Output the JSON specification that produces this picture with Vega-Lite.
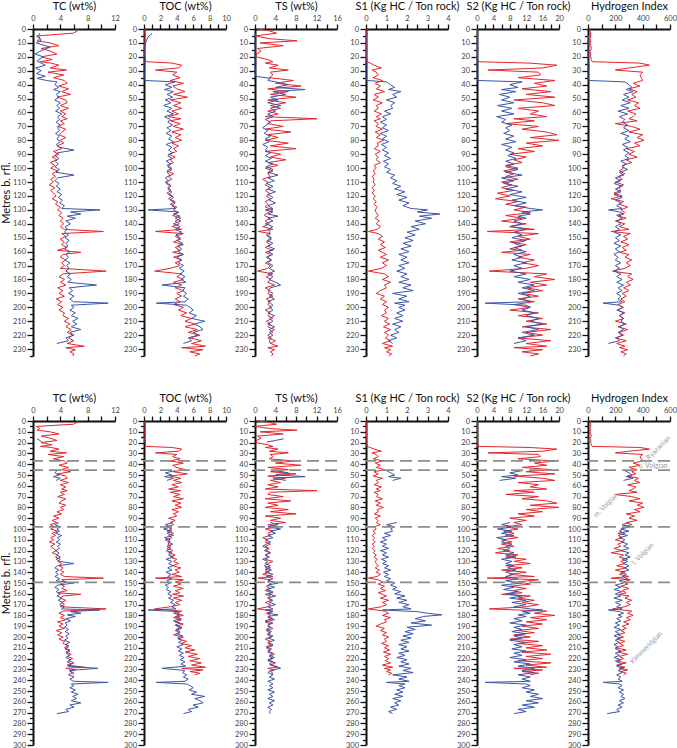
{
"$schema": "https://vega.github.io/schema/vega-lite/v6.json",
"padding": {"left": 0, "top": 0, "right": 0, "bottom": 0},
"config": {
  "view": {"stroke": null},
  "font": "Lato",
  "axis": {"domainColor": "#111", "domainWidth": 2, "tickColor": "#111", "tickWidth": 1.3, "tickSize": 5, "labelColor": "#444", "labelFontSize": 7.5, "labelPadding": 1.5, "labelFlush": false, "labelOverlap": false, "titleFontSize": 11, "titleFontWeight": "normal", "titleColor": "#111", "titlePadding": 3, "grid": false, "labelFont": "Lato", "titleFont": "Lato"}
},
"datasets": {
  "red": [
{"d":0,"tc":6.5,"toc":0.1,"ts":0.5,"s1":0.02,"s2":0,"hi":15},
{"d":1,"tc":6.6,"toc":0.1,"ts":2.5,"s1":0.03,"s2":0.1,"hi":15},
{"d":3,"tc":5.9,"toc":0.1,"ts":4.2,"s1":0.03,"s2":0.1,"hi":20},
{"d":5,"tc":0.5,"toc":0.15,"ts":0,"s1":0.02,"s2":0.1,"hi":20},
{"d":7,"tc":1.0,"toc":0.1,"ts":3.0,"s1":0.03,"s2":0.1,"hi":15},
{"d":8.5,"tc":0.6,"toc":0.12,"ts":8.2,"s1":0.03,"s2":0.1,"hi":20},
{"d":10,"tc":2.5,"toc":0.1,"ts":1.0,"s1":0.02,"s2":0.1,"hi":15},
{"d":12,"tc":3.8,"toc":0.1,"ts":5.5,"s1":0.03,"s2":0.1,"hi":20},
{"d":14,"tc":1.2,"toc":0.15,"ts":0.5,"s1":0.03,"s2":0.2,"hi":25},
{"d":16,"tc":2.6,"toc":0.1,"ts":1.2,"s1":0.03,"s2":0.1,"hi":15},
{"d":18,"tc":3.5,"toc":0.12,"ts":0.3,"s1":0.03,"s2":0.1,"hi":20},
{"d":20,"tc":1.2,"toc":0.15,"ts":0.2,"s1":0.03,"s2":0.1,"hi":20},
{"d":22,"tc":2.8,"toc":0.2,"ts":2.5,"s1":0.04,"s2":0.2,"hi":25},
{"d":23.5,"tc":1.1,"toc":0.2,"ts":3.5,"s1":0.05,"s2":0.2,"hi":30},
{"d":24.5,"tc":2.6,"toc":3.4,"ts":2.0,"s1":0.2,"s2":12.7,"hi":380},
{"d":26,"tc":3.8,"toc":4.6,"ts":4.5,"s1":0.4,"s2":19.5,"hi":450},
{"d":28,"tc":2.5,"toc":4.2,"ts":2.8,"s1":0.75,"s2":16,"hi":300},
{"d":29.5,"tc":4.9,"toc":1.4,"ts":6.5,"s1":0.3,"s2":2.7,"hi":200},
{"d":31,"tc":2.2,"toc":4.0,"ts":3.0,"s1":0.5,"s2":15,"hi":400},
{"d":33,"tc":4.5,"toc":3.5,"ts":3.5,"s1":0.6,"s2":15.5,"hi":380},
{"d":35,"tc":3.0,"toc":4.4,"ts":2.8,"s1":0.35,"s2":10,"hi":390},
{"d":37,"tc":4.6,"toc":3.2,"ts":7.5,"s1":0.8,"s2":19,"hi":400},
{"d":39,"tc":5.0,"toc":4.8,"ts":4.0,"s1":0.45,"s2":14,"hi":330},
{"d":41,"tc":3.8,"toc":3.5,"ts":9.0,"s1":0.7,"s2":17,"hi":380},
{"d":43,"tc":5.2,"toc":4.0,"ts":2.5,"s1":0.5,"s2":11,"hi":300},
{"d":45,"tc":4.2,"toc":5.0,"ts":6.5,"s1":0.9,"s2":18,"hi":360},
{"d":47,"tc":5.5,"toc":3.6,"ts":3.0,"s1":0.4,"s2":12,"hi":320},
{"d":49,"tc":3.5,"toc":5.3,"ts":8.0,"s1":0.6,"s2":19,"hi":350},
{"d":51,"tc":4.8,"toc":3.2,"ts":2.5,"s1":0.35,"s2":9,"hi":290},
{"d":53,"tc":5.0,"toc":4.5,"ts":6.0,"s1":0.8,"s2":16,"hi":370},
{"d":55,"tc":4.0,"toc":3.6,"ts":3.0,"s1":0.5,"s2":19,"hi":340},
{"d":57,"tc":5.2,"toc":4.6,"ts":5.0,"s1":0.6,"s2":10,"hi":380},
{"d":59,"tc":4.0,"toc":3.4,"ts":2.5,"s1":0.4,"s2":15,"hi":290},
{"d":61,"tc":4.8,"toc":4.2,"ts":4.5,"s1":0.75,"s2":13,"hi":350},
{"d":63,"tc":4.2,"toc":3.0,"ts":2.0,"s1":0.5,"s2":17,"hi":330},
{"d":64.5,"tc":5.0,"toc":4.5,"ts":12.1,"s1":0.7,"s2":9,"hi":300},
{"d":66,"tc":4.0,"toc":3.2,"ts":3.0,"s1":0.4,"s2":14,"hi":360},
{"d":68,"tc":4.6,"toc":4.4,"ts":2.5,"s1":0.6,"s2":7,"hi":200},
{"d":70,"tc":3.6,"toc":3.6,"ts":5.5,"s1":0.5,"s2":15,"hi":320},
{"d":72,"tc":4.8,"toc":4.8,"ts":2.0,"s1":0.8,"s2":11,"hi":380},
{"d":74,"tc":4.2,"toc":3.4,"ts":7.0,"s1":0.45,"s2":17,"hi":300},
{"d":76,"tc":3.8,"toc":4.5,"ts":2.5,"s1":0.7,"s2":19.5,"hi":400},
{"d":78,"tc":4.8,"toc":3.8,"ts":4.5,"s1":0.5,"s2":13,"hi":360},
{"d":80,"tc":4.0,"toc":4.6,"ts":2.0,"s1":0.85,"s2":20,"hi":410},
{"d":82,"tc":4.5,"toc":3.4,"ts":6.5,"s1":0.55,"s2":12,"hi":340},
{"d":84,"tc":3.5,"toc":4.2,"ts":3.0,"s1":0.6,"s2":16,"hi":380},
{"d":86,"tc":4.2,"toc":3.6,"ts":8.0,"s1":0.4,"s2":10,"hi":280},
{"d":88,"tc":3.0,"toc":4.0,"ts":2.0,"s1":0.7,"s2":14,"hi":340},
{"d":90,"tc":3.8,"toc":3.0,"ts":5.0,"s1":0.45,"s2":8,"hi":300},
{"d":92,"tc":2.8,"toc":3.8,"ts":3.0,"s1":0.6,"s2":12,"hi":360},
{"d":94,"tc":3.5,"toc":3.2,"ts":6.0,"s1":0.5,"s2":9,"hi":280},
{"d":96,"tc":2.5,"toc":3.6,"ts":2.5,"s1":0.7,"s2":11,"hi":320},
{"d":98,"tc":3.2,"toc":2.8,"ts":4.5,"s1":0.4,"s2":7,"hi":250},
{"d":100,"tc":2.6,"toc":3.4,"ts":2.0,"s1":0.5,"s2":10,"hi":260},
{"d":102,"tc":3.6,"toc":2.8,"ts":3.5,"s1":0.35,"s2":6.5,"hi":230},
{"d":104,"tc":2.8,"toc":3.6,"ts":2.5,"s1":0.45,"s2":9,"hi":270},
{"d":106,"tc":3.3,"toc":3.0,"ts":3.0,"s1":0.3,"s2":7,"hi":220},
{"d":108,"tc":2.6,"toc":3.4,"ts":1.5,"s1":0.4,"s2":10,"hi":250},
{"d":110,"tc":3.0,"toc":2.6,"ts":2.5,"s1":0.35,"s2":6,"hi":200},
{"d":112,"tc":2.4,"toc":3.2,"ts":2.0,"s1":0.45,"s2":8.5,"hi":260},
{"d":114,"tc":3.2,"toc":2.9,"ts":3.0,"s1":0.3,"s2":6,"hi":220},
{"d":116,"tc":2.6,"toc":3.3,"ts":2.0,"s1":0.4,"s2":9,"hi":240},
{"d":118,"tc":3.0,"toc":2.8,"ts":2.8,"s1":0.3,"s2":5,"hi":190},
{"d":120,"tc":3.4,"toc":3.5,"ts":2.2,"s1":0.45,"s2":8,"hi":250},
{"d":122,"tc":2.8,"toc":3.0,"ts":3.0,"s1":0.35,"s2":4.5,"hi":170},
{"d":124,"tc":3.6,"toc":3.8,"ts":2.0,"s1":0.5,"s2":10,"hi":260},
{"d":126,"tc":3.3,"toc":3.2,"ts":2.5,"s1":0.4,"s2":7,"hi":230},
{"d":128,"tc":4.0,"toc":4.0,"ts":2.0,"s1":0.55,"s2":12,"hi":290},
{"d":130,"tc":3.6,"toc":3.6,"ts":3.5,"s1":0.45,"s2":9,"hi":240},
{"d":132,"tc":4.2,"toc":4.2,"ts":2.5,"s1":0.5,"s2":13,"hi":270},
{"d":134,"tc":3.8,"toc":3.5,"ts":1.8,"s1":0.6,"s2":7,"hi":210},
{"d":136,"tc":4.4,"toc":4.5,"ts":3.0,"s1":0.45,"s2":11,"hi":280},
{"d":138,"tc":4.0,"toc":3.8,"ts":2.0,"s1":0.65,"s2":6,"hi":200},
{"d":140,"tc":4.5,"toc":4.3,"ts":2.8,"s1":0.5,"s2":12,"hi":270},
{"d":142,"tc":4.0,"toc":3.4,"ts":1.5,"s1":0.7,"s2":8,"hi":230},
{"d":144,"tc":4.6,"toc":4.6,"ts":3.5,"s1":0.55,"s2":14,"hi":300},
{"d":145.5,"tc":10.3,"toc":1.4,"ts":0.6,"s1":0.12,"s2":2.5,"hi":170},
{"d":147,"tc":4.2,"toc":4.8,"ts":3.0,"s1":0.6,"s2":15,"hi":310},
{"d":149,"tc":4.8,"toc":3.8,"ts":2.5,"s1":0.8,"s2":10,"hi":260},
{"d":151,"tc":4.0,"toc":4.5,"ts":3.2,"s1":0.6,"s2":13,"hi":290},
{"d":153,"tc":4.6,"toc":3.6,"ts":2.2,"s1":0.9,"s2":8,"hi":240},
{"d":155,"tc":4.2,"toc":4.8,"ts":3.0,"s1":0.7,"s2":12,"hi":300},
{"d":157,"tc":5.0,"toc":3.8,"ts":2.0,"s1":0.95,"s2":9,"hi":250},
{"d":159,"tc":3.6,"toc":4.4,"ts":3.5,"s1":0.6,"s2":11,"hi":280},
{"d":160.5,"tc":7.0,"toc":3.5,"ts":2.0,"s1":0.8,"s2":6,"hi":230},
{"d":162,"tc":4.4,"toc":4.8,"ts":3.0,"s1":1.0,"s2":13,"hi":300},
{"d":164,"tc":4.0,"toc":3.6,"ts":2.5,"s1":0.7,"s2":10,"hi":270},
{"d":166,"tc":4.8,"toc":4.6,"ts":3.2,"s1":1.1,"s2":14,"hi":320},
{"d":168,"tc":4.2,"toc":3.8,"ts":2.0,"s1":0.8,"s2":11,"hi":280},
{"d":170,"tc":4.6,"toc":4.4,"ts":3.0,"s1":1.0,"s2":15,"hi":310},
{"d":172,"tc":4.0,"toc":3.2,"ts":2.5,"s1":0.75,"s2":12,"hi":270},
{"d":174,"tc":10.7,"toc":1.3,"ts":0.5,"s1":0.12,"s2":3,"hi":180},
{"d":176,"tc":4.4,"toc":4.6,"ts":3.5,"s1":0.9,"s2":17,"hi":320},
{"d":178,"tc":3.8,"toc":4.0,"ts":2.2,"s1":1.1,"s2":14,"hi":290},
{"d":180,"tc":4.6,"toc":4.8,"ts":3.0,"s1":0.8,"s2":19,"hi":330},
{"d":182,"tc":4.0,"toc":3.6,"ts":2.5,"s1":1.2,"s2":13,"hi":280},
{"d":184,"tc":4.8,"toc":4.6,"ts":3.8,"s1":0.9,"s2":17,"hi":310},
{"d":186,"tc":3.6,"toc":3.8,"ts":2.0,"s1":1.0,"s2":12,"hi":260},
{"d":188,"tc":4.4,"toc":4.8,"ts":3.0,"s1":0.7,"s2":16,"hi":300},
{"d":190,"tc":3.8,"toc":4.0,"ts":2.5,"s1":0.5,"s2":11,"hi":250},
{"d":192,"tc":4.6,"toc":4.6,"ts":3.5,"s1":0.9,"s2":15,"hi":280},
{"d":194,"tc":3.4,"toc":3.8,"ts":2.2,"s1":0.7,"s2":10,"hi":240},
{"d":196,"tc":4.2,"toc":4.4,"ts":3.0,"s1":1.0,"s2":14,"hi":270},
{"d":198,"tc":3.6,"toc":3.6,"ts":2.5,"s1":0.8,"s2":9,"hi":220},
{"d":200,"tc":4.4,"toc":4.8,"ts":3.2,"s1":1.1,"s2":13,"hi":260},
{"d":202,"tc":3.8,"toc":4.2,"ts":2.0,"s1":0.9,"s2":8,"hi":210},
{"d":204,"tc":4.6,"toc":5.2,"ts":3.0,"s1":1.0,"s2":15,"hi":270},
{"d":206,"tc":4.4,"toc":4.5,"ts":2.5,"s1":0.75,"s2":10,"hi":230},
{"d":208,"tc":5.2,"toc":5.8,"ts":3.5,"s1":1.1,"s2":16,"hi":260},
{"d":210,"tc":4.6,"toc":5.0,"ts":2.2,"s1":0.9,"s2":12,"hi":200},
{"d":212,"tc":5.4,"toc":6.2,"ts":3.0,"s1":1.15,"s2":17,"hi":280},
{"d":214,"tc":4.8,"toc":5.0,"ts":2.5,"s1":0.85,"s2":11,"hi":220},
{"d":216,"tc":5.6,"toc":6.5,"ts":3.8,"s1":1.2,"s2":18,"hi":290},
{"d":218,"tc":5.0,"toc":5.4,"ts":2.8,"s1":0.9,"s2":12,"hi":230},
{"d":220,"tc":5.8,"toc":6.8,"ts":3.5,"s1":1.1,"s2":16,"hi":260},
{"d":222,"tc":5.2,"toc":5.6,"ts":2.5,"s1":0.95,"s2":10,"hi":200},
{"d":224,"tc":6.0,"toc":7.0,"ts":4.0,"s1":1.2,"s2":18,"hi":280},
{"d":226,"tc":5.0,"toc":5.8,"ts":3.0,"s1":0.8,"s2":12,"hi":210},
{"d":228,"tc":7.5,"toc":7.5,"ts":4.5,"s1":1.3,"s2":17,"hi":270},
{"d":229,"tc":4.8,"toc":4.6,"ts":2.5,"s1":0.9,"s2":9,"hi":230},
{"d":230.5,"tc":6.2,"toc":7.2,"ts":3.8,"s1":1.2,"s2":16,"hi":290},
{"d":232,"tc":5.4,"toc":5.6,"ts":3.0,"s1":1.0,"s2":11,"hi":240},
{"d":233.5,"tc":6.0,"toc":6.8,"ts":3.5,"s1":1.25,"s2":15,"hi":280},
{"d":235,"tc":5.8,"toc":6.2,"ts":3.2,"s1":1.1,"s2":13,"hi":260}
  ],
  "blueT": [
{"d":3,"tc":1.0,"toc":1.0,"ts":0,"s1":0.08,"s2":0.2,"hi":20},
{"d":5,"tc":0.8,"toc":0.6,"ts":0,"s1":0.02,"s2":0,"hi":5},
{"d":8,"tc":1.2,"toc":0.3,"ts":0,"s1":0,"s2":0,"hi":0},
{"d":10,"tc":0.5,"toc":0.2,"ts":0,"s1":0,"s2":0,"hi":0},
{"d":13,"tc":2.5,"toc":0.05,"ts":0,"s1":0,"s2":0,"hi":0},
{"d":16,"tc":1.0,"toc":0,"ts":0,"s1":0,"s2":0,"hi":0},
{"d":18,"tc":0.3,"toc":0,"ts":0,"s1":0,"s2":0,"hi":0},
{"d":20,"tc":1.5,"toc":0,"ts":0,"s1":0,"s2":0,"hi":0},
{"d":23,"tc":0.6,"toc":0,"ts":0,"s1":0,"s2":0,"hi":0},
{"d":26,"tc":1.8,"toc":0,"ts":0,"s1":0,"s2":0,"hi":0},
{"d":28,"tc":0.4,"toc":0,"ts":0,"s1":0,"s2":0,"hi":0},
{"d":30,"tc":1.2,"toc":0,"ts":0,"s1":0,"s2":0,"hi":0},
{"d":32,"tc":0.5,"toc":0,"ts":0,"s1":0,"s2":0,"hi":0},
{"d":34,"tc":1.8,"toc":0,"ts":0.2,"s1":0,"s2":0,"hi":0},
{"d":35.5,"tc":0.6,"toc":0,"ts":3.0,"s1":0,"s2":0,"hi":0},
{"d":37,"tc":2.0,"toc":0.1,"ts":2.5,"s1":0.05,"s2":0.2,"hi":10},
{"d":38,"tc":3.5,"toc":3.8,"ts":4.0,"s1":1.0,"s2":11,"hi":270},
{"d":40,"tc":3.2,"toc":2.6,"ts":6.5,"s1":1.2,"s2":8,"hi":300},
{"d":42,"tc":3.8,"toc":3.4,"ts":4.0,"s1":1.4,"s2":10,"hi":320},
{"d":43.5,"tc":3.0,"toc":2.5,"ts":9.8,"s1":1.1,"s2":6,"hi":280},
{"d":45,"tc":4.0,"toc":3.6,"ts":3.5,"s1":1.7,"s2":9.5,"hi":330},
{"d":47,"tc":3.4,"toc":2.8,"ts":6.0,"s1":1.3,"s2":5.5,"hi":260},
{"d":49,"tc":3.8,"toc":3.5,"ts":3.0,"s1":1.5,"s2":8,"hi":300},
{"d":51,"tc":3.2,"toc":2.6,"ts":4.5,"s1":1.0,"s2":6,"hi":250},
{"d":53,"tc":4.0,"toc":3.3,"ts":2.5,"s1":1.4,"s2":9,"hi":310},
{"d":55,"tc":3.5,"toc":2.4,"ts":5.0,"s1":1.2,"s2":5,"hi":240},
{"d":57,"tc":3.9,"toc":3.4,"ts":3.0,"s1":1.3,"s2":8.5,"hi":300},
{"d":59,"tc":3.3,"toc":2.8,"ts":4.0,"s1":0.9,"s2":6,"hi":220},
{"d":61,"tc":4.2,"toc":3.6,"ts":2.5,"s1":1.2,"s2":9,"hi":290},
{"d":63,"tc":3.6,"toc":2.5,"ts":3.5,"s1":0.8,"s2":4.8,"hi":230},
{"d":65,"tc":3.9,"toc":3.2,"ts":2.0,"s1":1.0,"s2":7,"hi":270},
{"d":67,"tc":3.4,"toc":2.9,"ts":3.0,"s1":0.7,"s2":6,"hi":250},
{"d":69,"tc":4.0,"toc":3.5,"ts":2.2,"s1":1.0,"s2":8.5,"hi":290},
{"d":71,"tc":3.6,"toc":2.8,"ts":1.5,"s1":0.8,"s2":7,"hi":260},
{"d":73,"tc":3.9,"toc":3.3,"ts":2.5,"s1":1.1,"s2":8,"hi":300},
{"d":75,"tc":3.3,"toc":2.7,"ts":1.8,"s1":0.7,"s2":6.5,"hi":240},
{"d":77,"tc":3.8,"toc":3.4,"ts":3.0,"s1":1.0,"s2":9,"hi":300},
{"d":79,"tc":3.5,"toc":3.0,"ts":2.0,"s1":0.8,"s2":7,"hi":270},
{"d":81,"tc":4.0,"toc":3.6,"ts":2.8,"s1":1.1,"s2":9.5,"hi":310},
{"d":83,"tc":3.4,"toc":2.7,"ts":1.5,"s1":0.75,"s2":6,"hi":250},
{"d":85,"tc":3.9,"toc":3.4,"ts":2.5,"s1":1.0,"s2":8.5,"hi":290},
{"d":87,"tc":6.0,"toc":3.0,"ts":2.0,"s1":0.8,"s2":7,"hi":260},
{"d":89,"tc":3.6,"toc":3.5,"ts":3.0,"s1":1.1,"s2":9,"hi":300},
{"d":91,"tc":3.2,"toc":2.9,"ts":2.0,"s1":0.9,"s2":7.5,"hi":270},
{"d":93,"tc":3.8,"toc":3.4,"ts":3.2,"s1":1.2,"s2":9.5,"hi":300},
{"d":95,"tc":3.3,"toc":2.7,"ts":2.0,"s1":0.85,"s2":7,"hi":240},
{"d":97,"tc":3.7,"toc":3.3,"ts":3.5,"s1":1.1,"s2":9,"hi":280},
{"d":99,"tc":3.2,"toc":2.9,"ts":2.2,"s1":0.9,"s2":7,"hi":250},
{"d":101,"tc":3.9,"toc":3.4,"ts":3.5,"s1":1.2,"s2":10,"hi":290},
{"d":103,"tc":3.4,"toc":2.8,"ts":2.5,"s1":1.0,"s2":7,"hi":230},
{"d":105,"tc":6.0,"toc":3.2,"ts":4.5,"s1":1.4,"s2":11,"hi":260},
{"d":107,"tc":3.6,"toc":2.6,"ts":2.5,"s1":1.2,"s2":6,"hi":200},
{"d":109,"tc":3.2,"toc":3.0,"ts":3.8,"s1":1.5,"s2":9,"hi":240},
{"d":111,"tc":3.8,"toc":2.7,"ts":2.2,"s1":1.3,"s2":6.5,"hi":190},
{"d":113,"tc":3.4,"toc":3.3,"ts":3.5,"s1":1.7,"s2":10,"hi":250},
{"d":115,"tc":4.0,"toc":2.9,"ts":2.5,"s1":1.4,"s2":7,"hi":200},
{"d":117,"tc":3.5,"toc":3.4,"ts":4.0,"s1":1.9,"s2":11,"hi":240},
{"d":119,"tc":4.2,"toc":3.0,"ts":2.5,"s1":1.5,"s2":8,"hi":190},
{"d":121,"tc":3.7,"toc":3.6,"ts":3.5,"s1":2.0,"s2":12,"hi":250},
{"d":123,"tc":4.3,"toc":3.2,"ts":2.8,"s1":1.6,"s2":8.5,"hi":200},
{"d":125,"tc":3.9,"toc":3.8,"ts":4.0,"s1":2.1,"s2":12,"hi":240},
{"d":127,"tc":4.6,"toc":3.4,"ts":2.5,"s1":1.8,"s2":9,"hi":210},
{"d":129,"tc":4.2,"toc":3.9,"ts":3.5,"s1":2.2,"s2":13,"hi":250},
{"d":130,"tc":9.8,"toc":0.5,"ts":2.0,"s1":3.0,"s2":16,"hi":150},
{"d":131.5,"tc":5.5,"toc":4.2,"ts":3.5,"s1":2.5,"s2":11,"hi":230},
{"d":133,"tc":7.0,"toc":3.6,"ts":2.5,"s1":3.6,"s2":13,"hi":260},
{"d":134.5,"tc":5.0,"toc":4.4,"ts":4.5,"s1":2.6,"s2":10,"hi":220},
{"d":136,"tc":6.2,"toc":3.8,"ts":2.5,"s1":3.2,"s2":12,"hi":250},
{"d":138,"tc":4.8,"toc":4.5,"ts":3.5,"s1":2.4,"s2":9,"hi":210},
{"d":140,"tc":5.5,"toc":3.6,"ts":2.0,"s1":2.9,"s2":11,"hi":240},
{"d":142,"tc":4.7,"toc":4.4,"ts":3.5,"s1":2.2,"s2":8,"hi":200},
{"d":144,"tc":5.0,"toc":3.8,"ts":2.5,"s1":2.6,"s2":12,"hi":230},
{"d":146,"tc":4.6,"toc":4.6,"ts":3.0,"s1":2.0,"s2":9,"hi":190},
{"d":148,"tc":5.2,"toc":3.9,"ts":2.2,"s1":2.4,"s2":11,"hi":240},
{"d":150,"tc":4.7,"toc":4.4,"ts":3.2,"s1":1.9,"s2":8.5,"hi":200},
{"d":152,"tc":5.3,"toc":4.0,"ts":2.4,"s1":2.3,"s2":12,"hi":230},
{"d":154,"tc":4.8,"toc":4.7,"ts":3.5,"s1":1.8,"s2":9,"hi":190},
{"d":156,"tc":5.1,"toc":4.1,"ts":2.5,"s1":2.2,"s2":11,"hi":240},
{"d":158,"tc":4.6,"toc":4.6,"ts":3.8,"s1":1.7,"s2":8,"hi":200},
{"d":160,"tc":5.4,"toc":4.2,"ts":2.5,"s1":2.1,"s2":12,"hi":230},
{"d":162,"tc":4.8,"toc":4.8,"ts":3.5,"s1":1.6,"s2":9,"hi":190},
{"d":164,"tc":5.2,"toc":4.0,"ts":2.2,"s1":2.0,"s2":11,"hi":220},
{"d":166,"tc":4.7,"toc":4.6,"ts":3.2,"s1":1.7,"s2":8.5,"hi":200},
{"d":168,"tc":5.4,"toc":4.2,"ts":2.5,"s1":2.1,"s2":12,"hi":240},
{"d":170,"tc":4.9,"toc":4.8,"ts":3.5,"s1":1.6,"s2":9,"hi":200},
{"d":172,"tc":5.3,"toc":4.3,"ts":2.8,"s1":1.9,"s2":11,"hi":230},
{"d":174,"tc":4.8,"toc":4.9,"ts":3.8,"s1":1.5,"s2":8,"hi":190},
{"d":176,"tc":5.5,"toc":4.4,"ts":2.5,"s1":2.0,"s2":12,"hi":240},
{"d":178,"tc":5.0,"toc":5.0,"ts":3.5,"s1":1.7,"s2":9,"hi":210},
{"d":180,"tc":5.6,"toc":4.5,"ts":2.8,"s1":2.1,"s2":13,"hi":250},
{"d":182,"tc":5.1,"toc":5.1,"ts":4.0,"s1":1.6,"s2":10,"hi":210},
{"d":184,"tc":9.3,"toc":2.2,"ts":5.0,"s1":2.2,"s2":14,"hi":260},
{"d":186,"tc":5.3,"toc":5.0,"ts":3.0,"s1":1.8,"s2":11,"hi":220},
{"d":188,"tc":5.8,"toc":4.7,"ts":2.5,"s1":2.3,"s2":14,"hi":250},
{"d":190,"tc":5.2,"toc":5.2,"ts":3.5,"s1":1.3,"s2":10,"hi":210},
{"d":192,"tc":6.0,"toc":4.8,"ts":2.8,"s1":2.0,"s2":13,"hi":240},
{"d":194,"tc":5.4,"toc":5.4,"ts":3.8,"s1":1.6,"s2":11,"hi":220},
{"d":196,"tc":5.9,"toc":5.0,"ts":2.5,"s1":2.1,"s2":13,"hi":250},
{"d":197,"tc":11.0,"toc":1.5,"ts":3.0,"s1":1.4,"s2":2,"hi":110},
{"d":198.5,"tc":5.6,"toc":5.2,"ts":3.5,"s1":1.9,"s2":12,"hi":230},
{"d":200,"tc":6.0,"toc":5.6,"ts":2.8,"s1":1.6,"s2":13,"hi":250},
{"d":202,"tc":5.4,"toc":6.0,"ts":3.5,"s1":1.9,"s2":11,"hi":220},
{"d":204,"tc":6.2,"toc":5.5,"ts":2.5,"s1":1.5,"s2":14,"hi":260},
{"d":206,"tc":5.6,"toc":6.4,"ts":3.8,"s1":1.8,"s2":12,"hi":230},
{"d":208,"tc":6.6,"toc":5.8,"ts":2.8,"s1":1.4,"s2":15,"hi":260},
{"d":210,"tc":5.8,"toc":7.4,"ts":3.5,"s1":1.8,"s2":13,"hi":240},
{"d":212,"tc":6.4,"toc":6.2,"ts":2.5,"s1":1.3,"s2":16,"hi":270},
{"d":214,"tc":5.6,"toc":6.8,"ts":3.8,"s1":1.7,"s2":12,"hi":230},
{"d":216,"tc":7.0,"toc":7.2,"ts":2.8,"s1":1.4,"s2":15,"hi":260},
{"d":218,"tc":5.4,"toc":6.0,"ts":3.5,"s1":1.6,"s2":11,"hi":220},
{"d":220,"tc":6.0,"toc":6.6,"ts":2.5,"s1":1.2,"s2":14,"hi":250},
{"d":222,"tc":4.8,"toc":5.4,"ts":3.2,"s1":1.5,"s2":10,"hi":210},
{"d":224,"tc":5.2,"toc":5.8,"ts":2.8,"s1":1.1,"s2":12,"hi":230},
{"d":226,"tc":3.5,"toc":4.8,"ts":3.0,"s1":1.3,"s2":9,"hi":150}
  ],
  "blueB": [
{"d":16.5,"seg":1,"tc":0.6,"toc":0.1,"ts":5.6,"s1":0.02,"s2":0.1,"hi":5},
{"d":18,"seg":1,"tc":1.0,"toc":0.15,"ts":4.0,"s1":0.02,"s2":0.1,"hi":5},
{"d":19.5,"seg":1,"tc":1.3,"toc":0.1,"ts":2.3,"s1":0.02,"s2":0.1,"hi":5},
{"d":46,"seg":2,"tc":3.5,"toc":3.8,"ts":4.0,"s1":1.0,"s2":11,"hi":270},
{"d":48,"seg":2,"tc":3.2,"toc":2.6,"ts":6.5,"s1":1.2,"s2":8,"hi":300},
{"d":50,"seg":2,"tc":3.8,"toc":3.4,"ts":4.0,"s1":1.4,"s2":10,"hi":320},
{"d":51.5,"seg":2,"tc":3.0,"toc":2.5,"ts":9.8,"s1":1.1,"s2":6,"hi":280},
{"d":53,"seg":2,"tc":4.0,"toc":3.6,"ts":3.5,"s1":1.7,"s2":9.5,"hi":330},
{"d":55,"seg":2,"tc":3.4,"toc":2.8,"ts":6.0,"s1":1.3,"s2":5.5,"hi":260},
{"d":94,"seg":3,"tc":3.8,"toc":3.5,"ts":3.0,"s1":1.5,"s2":8,"hi":300},
{"d":96,"seg":3,"tc":3.2,"toc":2.6,"ts":4.5,"s1":1.0,"s2":6,"hi":250},
{"d":98,"seg":3,"tc":4.0,"toc":3.3,"ts":2.5,"s1":1.4,"s2":9,"hi":310},
{"d":100,"seg":3,"tc":3.5,"toc":2.4,"ts":5.0,"s1":1.2,"s2":5,"hi":240},
{"d":102,"seg":3,"tc":3.9,"toc":3.4,"ts":3.0,"s1":1.3,"s2":8.5,"hi":300},
{"d":104,"seg":3,"tc":3.3,"toc":2.8,"ts":4.0,"s1":0.9,"s2":6,"hi":220},
{"d":106,"seg":3,"tc":4.2,"toc":3.6,"ts":2.5,"s1":1.2,"s2":9,"hi":290},
{"d":108,"seg":3,"tc":3.6,"toc":2.5,"ts":3.5,"s1":0.8,"s2":4.8,"hi":230},
{"d":110,"seg":3,"tc":3.9,"toc":3.2,"ts":2.0,"s1":1.0,"s2":7,"hi":270},
{"d":112,"seg":3,"tc":3.4,"toc":2.9,"ts":3.0,"s1":0.7,"s2":6,"hi":250},
{"d":114,"seg":3,"tc":4.0,"toc":3.5,"ts":2.2,"s1":1.0,"s2":8.5,"hi":290},
{"d":116,"seg":3,"tc":3.6,"toc":2.8,"ts":1.5,"s1":0.8,"s2":7,"hi":260},
{"d":118,"seg":3,"tc":3.9,"toc":3.3,"ts":2.5,"s1":1.1,"s2":8,"hi":300},
{"d":120,"seg":3,"tc":3.3,"toc":2.7,"ts":1.8,"s1":0.7,"s2":6.5,"hi":240},
{"d":122,"seg":3,"tc":3.8,"toc":3.4,"ts":3.0,"s1":1.0,"s2":9,"hi":300},
{"d":124,"seg":3,"tc":3.5,"toc":3.0,"ts":2.0,"s1":0.8,"s2":7,"hi":270},
{"d":126,"seg":3,"tc":4.0,"toc":3.6,"ts":2.8,"s1":1.1,"s2":9.5,"hi":310},
{"d":128,"seg":3,"tc":3.4,"toc":2.7,"ts":1.5,"s1":0.75,"s2":6,"hi":250},
{"d":130,"seg":3,"tc":3.9,"toc":3.4,"ts":2.5,"s1":1.0,"s2":8.5,"hi":290},
{"d":132,"seg":3,"tc":6.0,"toc":3.0,"ts":2.0,"s1":0.8,"s2":7,"hi":260},
{"d":134,"seg":3,"tc":3.6,"toc":3.5,"ts":3.0,"s1":1.1,"s2":9,"hi":300},
{"d":136,"seg":3,"tc":3.2,"toc":2.9,"ts":2.0,"s1":0.9,"s2":7.5,"hi":270},
{"d":138,"seg":3,"tc":3.8,"toc":3.4,"ts":3.2,"s1":1.2,"s2":9.5,"hi":300},
{"d":140,"seg":3,"tc":3.3,"toc":2.7,"ts":2.0,"s1":0.85,"s2":7,"hi":240},
{"d":142,"seg":3,"tc":3.7,"toc":3.3,"ts":3.5,"s1":1.1,"s2":9,"hi":280},
{"d":144,"seg":3,"tc":3.2,"toc":2.9,"ts":2.2,"s1":0.9,"s2":7,"hi":250},
{"d":146,"seg":3,"tc":3.9,"toc":3.4,"ts":3.5,"s1":1.2,"s2":10,"hi":290},
{"d":148,"seg":3,"tc":3.4,"toc":2.8,"ts":2.5,"s1":1.0,"s2":7,"hi":230},
{"d":150,"seg":3,"tc":6.0,"toc":3.2,"ts":4.5,"s1":1.4,"s2":11,"hi":260},
{"d":152,"seg":3,"tc":3.6,"toc":2.6,"ts":2.5,"s1":1.2,"s2":6,"hi":200},
{"d":154,"seg":3,"tc":3.2,"toc":3.0,"ts":3.8,"s1":1.5,"s2":9,"hi":240},
{"d":156,"seg":3,"tc":3.8,"toc":2.7,"ts":2.2,"s1":1.3,"s2":6.5,"hi":190},
{"d":158,"seg":3,"tc":3.4,"toc":3.3,"ts":3.5,"s1":1.7,"s2":10,"hi":250},
{"d":160,"seg":3,"tc":4.0,"toc":2.9,"ts":2.5,"s1":1.4,"s2":7,"hi":200},
{"d":162,"seg":3,"tc":3.5,"toc":3.4,"ts":4.0,"s1":1.9,"s2":11,"hi":240},
{"d":164,"seg":3,"tc":4.2,"toc":3.0,"ts":2.5,"s1":1.5,"s2":8,"hi":190},
{"d":166,"seg":3,"tc":3.7,"toc":3.6,"ts":3.5,"s1":2.0,"s2":12,"hi":250},
{"d":168,"seg":3,"tc":4.3,"toc":3.2,"ts":2.8,"s1":1.6,"s2":8.5,"hi":200},
{"d":170,"seg":3,"tc":3.9,"toc":3.8,"ts":4.0,"s1":2.1,"s2":12,"hi":240},
{"d":172,"seg":3,"tc":4.6,"toc":3.4,"ts":2.5,"s1":1.8,"s2":9,"hi":210},
{"d":174,"seg":3,"tc":4.2,"toc":3.9,"ts":3.5,"s1":2.2,"s2":13,"hi":250},
{"d":175,"seg":3,"tc":9.8,"toc":0.5,"ts":2.0,"s1":0.8,"s2":16,"hi":150},
{"d":176.5,"seg":3,"tc":5.5,"toc":4.2,"ts":3.5,"s1":2.5,"s2":11,"hi":230},
{"d":178,"seg":3,"tc":7.0,"toc":3.6,"ts":2.5,"s1":3.0,"s2":13,"hi":260},
{"d":179.5,"seg":3,"tc":5.0,"toc":4.4,"ts":4.5,"s1":3.7,"s2":10,"hi":220},
{"d":181,"seg":3,"tc":6.2,"toc":3.8,"ts":2.5,"s1":2.8,"s2":12,"hi":250},
{"d":183,"seg":3,"tc":4.8,"toc":4.5,"ts":3.5,"s1":2.4,"s2":9,"hi":210},
{"d":185,"seg":3,"tc":5.5,"toc":3.6,"ts":2.0,"s1":2.9,"s2":11,"hi":240},
{"d":187,"seg":3,"tc":4.7,"toc":4.4,"ts":3.5,"s1":2.2,"s2":8,"hi":200},
{"d":189,"seg":3,"tc":5.0,"toc":3.8,"ts":2.5,"s1":3.2,"s2":12,"hi":230},
{"d":191,"seg":3,"tc":4.6,"toc":4.6,"ts":3.0,"s1":2.0,"s2":9,"hi":190},
{"d":193,"seg":3,"tc":5.2,"toc":3.9,"ts":2.2,"s1":2.4,"s2":11,"hi":240},
{"d":195,"seg":3,"tc":4.7,"toc":4.4,"ts":3.2,"s1":1.9,"s2":8.5,"hi":200},
{"d":197,"seg":3,"tc":5.3,"toc":4.0,"ts":2.4,"s1":2.3,"s2":12,"hi":230},
{"d":199,"seg":3,"tc":4.8,"toc":4.7,"ts":3.5,"s1":1.8,"s2":9,"hi":190},
{"d":201,"seg":3,"tc":5.1,"toc":4.1,"ts":2.5,"s1":2.2,"s2":11,"hi":240},
{"d":203,"seg":3,"tc":4.6,"toc":4.6,"ts":3.8,"s1":1.7,"s2":8,"hi":200},
{"d":205,"seg":3,"tc":5.4,"toc":4.2,"ts":2.5,"s1":2.1,"s2":12,"hi":230},
{"d":207,"seg":3,"tc":4.8,"toc":4.8,"ts":3.5,"s1":1.6,"s2":9,"hi":190},
{"d":209,"seg":3,"tc":5.2,"toc":4.0,"ts":2.2,"s1":2.0,"s2":11,"hi":220},
{"d":211,"seg":3,"tc":4.7,"toc":4.6,"ts":3.2,"s1":1.7,"s2":8.5,"hi":200},
{"d":213,"seg":3,"tc":5.4,"toc":4.2,"ts":2.5,"s1":2.1,"s2":12,"hi":240},
{"d":215,"seg":3,"tc":4.9,"toc":4.8,"ts":3.5,"s1":1.6,"s2":9,"hi":200},
{"d":217,"seg":3,"tc":5.3,"toc":4.3,"ts":2.8,"s1":1.9,"s2":11,"hi":230},
{"d":219,"seg":3,"tc":4.8,"toc":4.9,"ts":3.8,"s1":1.5,"s2":8,"hi":190},
{"d":221,"seg":3,"tc":5.5,"toc":4.4,"ts":2.5,"s1":2.0,"s2":12,"hi":240},
{"d":223,"seg":3,"tc":5.0,"toc":5.0,"ts":3.5,"s1":1.7,"s2":9,"hi":210},
{"d":225,"seg":3,"tc":5.6,"toc":4.5,"ts":2.8,"s1":2.1,"s2":13,"hi":250},
{"d":227,"seg":3,"tc":5.1,"toc":5.1,"ts":4.0,"s1":1.6,"s2":10,"hi":210},
{"d":229,"seg":3,"tc":9.5,"toc":2.2,"ts":5.0,"s1":2.2,"s2":14,"hi":260},
{"d":231,"seg":3,"tc":5.3,"toc":5.0,"ts":3.0,"s1":1.8,"s2":11,"hi":220},
{"d":233,"seg":3,"tc":5.8,"toc":4.7,"ts":2.5,"s1":2.3,"s2":14,"hi":250},
{"d":235,"seg":3,"tc":5.2,"toc":5.2,"ts":3.5,"s1":1.3,"s2":10,"hi":210},
{"d":237,"seg":3,"tc":6.0,"toc":4.8,"ts":2.8,"s1":2.0,"s2":13,"hi":240},
{"d":239,"seg":3,"tc":5.4,"toc":5.4,"ts":3.8,"s1":1.6,"s2":11,"hi":220},
{"d":241,"seg":3,"tc":5.9,"toc":5.0,"ts":2.5,"s1":2.1,"s2":13,"hi":250},
{"d":242,"seg":3,"tc":11.0,"toc":1.5,"ts":3.0,"s1":1.0,"s2":2,"hi":110},
{"d":243.5,"seg":3,"tc":5.6,"toc":5.2,"ts":3.5,"s1":1.9,"s2":12,"hi":230},
{"d":245,"seg":3,"tc":6.0,"toc":5.6,"ts":2.8,"s1":1.6,"s2":13,"hi":250},
{"d":247,"seg":3,"tc":5.4,"toc":6.0,"ts":3.5,"s1":1.9,"s2":11,"hi":220},
{"d":249,"seg":3,"tc":6.2,"toc":5.5,"ts":2.5,"s1":1.5,"s2":14,"hi":260},
{"d":251,"seg":3,"tc":5.6,"toc":6.4,"ts":3.8,"s1":1.8,"s2":12,"hi":230},
{"d":253,"seg":3,"tc":6.6,"toc":5.8,"ts":2.8,"s1":1.4,"s2":15,"hi":260},
{"d":255,"seg":3,"tc":5.8,"toc":7.4,"ts":3.5,"s1":1.8,"s2":13,"hi":240},
{"d":257,"seg":3,"tc":6.4,"toc":6.2,"ts":2.5,"s1":1.3,"s2":16,"hi":270},
{"d":259,"seg":3,"tc":5.6,"toc":6.8,"ts":3.8,"s1":1.7,"s2":12,"hi":230},
{"d":261,"seg":3,"tc":7.0,"toc":7.2,"ts":2.8,"s1":1.4,"s2":15,"hi":260},
{"d":263,"seg":3,"tc":5.4,"toc":6.0,"ts":3.5,"s1":1.6,"s2":11,"hi":220},
{"d":265,"seg":3,"tc":6.0,"toc":6.6,"ts":2.5,"s1":1.2,"s2":14,"hi":250},
{"d":267,"seg":3,"tc":4.8,"toc":5.4,"ts":3.2,"s1":1.5,"s2":10,"hi":210},
{"d":269,"seg":3,"tc":5.2,"toc":5.8,"ts":2.8,"s1":1.1,"s2":12,"hi":230},
{"d":271,"seg":3,"tc":3.5,"toc":4.8,"ts":3.0,"s1":1.3,"s2":9,"hi":140}
  ],
  "bounds": [{"depth":37},{"depth":45.5},{"depth":98},{"depth":149.5}],
  "stages": [
    {"label":"Ryazanian","depth":25,"hi":515},
    {"label":"u. Volgian","depth":42,"hi":474},
    {"label":"m. Volgian","depth":78,"hi":131},
    {"label":"l. Volgian","depth":123,"hi":401},
    {"label":"Kimmeridgian","depth":210,"hi":426}
  ]
},
"spacing": 32,
"vconcat": [
{"hconcat": [
 {"width":82,"height":327,"layer":[
  {"data":{"name":"red"},"mark":{"type":"line","color":"#e3262c","strokeWidth":1},"encoding":{
   "x":{"field":"tc","type":"quantitative","scale":{"domain":[0,12],"nice":false,"zero":false},"axis":{"orient":"top","title":"TC (wt%)","format":"~g","tickCount":100,"labelOverlap":false,"labelFlush":false,"values":[0,2,4,6,8,10,12],"labelExpr":"datum.value % 4 === 0 ? datum.label : ''"}},
   "y":{"field":"d","type":"quantitative","scale":{"domain":[0,235],"reverse":true,"nice":false,"zero":false},"axis":{"title":"Metres b. rfl.","titlePadding":1,"format":"d","tickCount":100,"labelOverlap":false,"values":[0,5,10,15,20,25,30,35,40,45,50,55,60,65,70,75,80,85,90,95,100,105,110,115,120,125,130,135,140,145,150,155,160,165,170,175,180,185,190,195,200,205,210,215,220,225,230,235],"labelExpr":"datum.value % 10 === 0 ? datum.label : ''","tickSize":{"condition":{"test":"datum.value % 10 === 0","value":6},"value":3.5}}},
   "order":{"field":"d","type":"quantitative"}}},
  {"data":{"name":"blueT"},"mark":{"type":"line","color":"#3a55a6","strokeWidth":1},"encoding":{
   "x":{"field":"tc","type":"quantitative","scale":{"domain":[0,12],"nice":false,"zero":false}},
   "y":{"field":"d","type":"quantitative","scale":{"domain":[0,235],"reverse":true,"nice":false,"zero":false}},
   "order":{"field":"d","type":"quantitative"}}}
 ]},
 {"width":82,"height":327,"layer":[
  {"data":{"name":"red"},"mark":{"type":"line","color":"#e3262c","strokeWidth":1},"encoding":{
   "x":{"field":"toc","type":"quantitative","scale":{"domain":[0,10],"nice":false,"zero":false},"axis":{"orient":"top","title":"TOC (wt%)","format":"~g","tickCount":100,"labelOverlap":false,"labelFlush":false,"values":[0,1,2,3,4,5,6,7,8,9,10],"labelExpr":"datum.value % 2 === 0 ? datum.label : ''"}},
   "y":{"field":"d","type":"quantitative","scale":{"domain":[0,235],"reverse":true,"nice":false,"zero":false},"axis":{"title":null,"format":"d","tickCount":100,"labelOverlap":false,"values":[0,5,10,15,20,25,30,35,40,45,50,55,60,65,70,75,80,85,90,95,100,105,110,115,120,125,130,135,140,145,150,155,160,165,170,175,180,185,190,195,200,205,210,215,220,225,230,235],"labelExpr":"datum.value % 10 === 0 ? datum.label : ''","tickSize":{"condition":{"test":"datum.value % 10 === 0","value":6},"value":3.5}}},
   "order":{"field":"d","type":"quantitative"}}},
  {"data":{"name":"blueT"},"mark":{"type":"line","color":"#3a55a6","strokeWidth":1},"encoding":{
   "x":{"field":"toc","type":"quantitative","scale":{"domain":[0,10],"nice":false,"zero":false}},
   "y":{"field":"d","type":"quantitative","scale":{"domain":[0,235],"reverse":true,"nice":false,"zero":false}},
   "order":{"field":"d","type":"quantitative"}}}
 ]},
 {"width":82,"height":327,"layer":[
  {"data":{"name":"red"},"mark":{"type":"line","color":"#e3262c","strokeWidth":1},"encoding":{
   "x":{"field":"ts","type":"quantitative","scale":{"domain":[0,16],"nice":false,"zero":false},"axis":{"orient":"top","title":"TS (wt%)","format":"~g","tickCount":100,"labelOverlap":false,"labelFlush":false,"values":[0,2,4,6,8,10,12,14,16],"labelExpr":"datum.value % 4 === 0 ? datum.label : ''"}},
   "y":{"field":"d","type":"quantitative","scale":{"domain":[0,235],"reverse":true,"nice":false,"zero":false},"axis":{"title":null,"format":"d","tickCount":100,"labelOverlap":false,"values":[0,5,10,15,20,25,30,35,40,45,50,55,60,65,70,75,80,85,90,95,100,105,110,115,120,125,130,135,140,145,150,155,160,165,170,175,180,185,190,195,200,205,210,215,220,225,230,235],"labelExpr":"datum.value % 10 === 0 ? datum.label : ''","tickSize":{"condition":{"test":"datum.value % 10 === 0","value":6},"value":3.5}}},
   "order":{"field":"d","type":"quantitative"}}},
  {"data":{"name":"blueT"},"mark":{"type":"line","color":"#3a55a6","strokeWidth":1},"encoding":{
   "x":{"field":"ts","type":"quantitative","scale":{"domain":[0,16],"nice":false,"zero":false}},
   "y":{"field":"d","type":"quantitative","scale":{"domain":[0,235],"reverse":true,"nice":false,"zero":false}},
   "order":{"field":"d","type":"quantitative"}}}
 ]},
 {"width":82,"height":327,"layer":[
  {"data":{"name":"red"},"mark":{"type":"line","color":"#e3262c","strokeWidth":1},"encoding":{
   "x":{"field":"s1","type":"quantitative","scale":{"domain":[0,4],"nice":false,"zero":false},"axis":{"orient":"top","title":"S1 (Kg HC / Ton rock)","format":"~g","tickCount":100,"labelOverlap":false,"labelFlush":false,"values":[0,0.5,1,1.5,2,2.5,3,3.5,4],"labelExpr":"datum.value % 1 === 0 ? datum.label : ''"}},
   "y":{"field":"d","type":"quantitative","scale":{"domain":[0,235],"reverse":true,"nice":false,"zero":false},"axis":{"title":null,"format":"d","tickCount":100,"labelOverlap":false,"values":[0,5,10,15,20,25,30,35,40,45,50,55,60,65,70,75,80,85,90,95,100,105,110,115,120,125,130,135,140,145,150,155,160,165,170,175,180,185,190,195,200,205,210,215,220,225,230,235],"labelExpr":"datum.value % 10 === 0 ? datum.label : ''","tickSize":{"condition":{"test":"datum.value % 10 === 0","value":6},"value":3.5}}},
   "order":{"field":"d","type":"quantitative"}}},
  {"data":{"name":"blueT"},"mark":{"type":"line","color":"#3a55a6","strokeWidth":1},"encoding":{
   "x":{"field":"s1","type":"quantitative","scale":{"domain":[0,4],"nice":false,"zero":false}},
   "y":{"field":"d","type":"quantitative","scale":{"domain":[0,235],"reverse":true,"nice":false,"zero":false}},
   "order":{"field":"d","type":"quantitative"}}}
 ]},
 {"width":82,"height":327,"layer":[
  {"data":{"name":"red"},"mark":{"type":"line","color":"#e3262c","strokeWidth":1},"encoding":{
   "x":{"field":"s2","type":"quantitative","scale":{"domain":[0,20],"nice":false,"zero":false},"axis":{"orient":"top","title":"S2 (Kg HC / Ton rock)","format":"~g","tickCount":100,"labelOverlap":false,"labelFlush":false,"values":[0,2,4,6,8,10,12,14,16,18,20],"labelExpr":"datum.value % 4 === 0 ? datum.label : ''"}},
   "y":{"field":"d","type":"quantitative","scale":{"domain":[0,235],"reverse":true,"nice":false,"zero":false},"axis":{"title":null,"format":"d","tickCount":100,"labelOverlap":false,"values":[0,5,10,15,20,25,30,35,40,45,50,55,60,65,70,75,80,85,90,95,100,105,110,115,120,125,130,135,140,145,150,155,160,165,170,175,180,185,190,195,200,205,210,215,220,225,230,235],"labelExpr":"datum.value % 10 === 0 ? datum.label : ''","tickSize":{"condition":{"test":"datum.value % 10 === 0","value":6},"value":3.5}}},
   "order":{"field":"d","type":"quantitative"}}},
  {"data":{"name":"blueT"},"mark":{"type":"line","color":"#3a55a6","strokeWidth":1},"encoding":{
   "x":{"field":"s2","type":"quantitative","scale":{"domain":[0,20],"nice":false,"zero":false}},
   "y":{"field":"d","type":"quantitative","scale":{"domain":[0,235],"reverse":true,"nice":false,"zero":false}},
   "order":{"field":"d","type":"quantitative"}}}
 ]},
 {"width":82,"height":327,"layer":[
  {"data":{"name":"red"},"mark":{"type":"line","color":"#e3262c","strokeWidth":1},"encoding":{
   "x":{"field":"hi","type":"quantitative","scale":{"domain":[0,600],"nice":false,"zero":false},"axis":{"orient":"top","title":"Hydrogen Index","format":"~g","tickCount":100,"labelOverlap":false,"labelFlush":false,"values":[0,100,200,300,400,500,600],"labelExpr":"datum.value % 200 === 0 ? datum.label : ''"}},
   "y":{"field":"d","type":"quantitative","scale":{"domain":[0,235],"reverse":true,"nice":false,"zero":false},"axis":{"title":null,"format":"d","tickCount":100,"labelOverlap":false,"values":[0,5,10,15,20,25,30,35,40,45,50,55,60,65,70,75,80,85,90,95,100,105,110,115,120,125,130,135,140,145,150,155,160,165,170,175,180,185,190,195,200,205,210,215,220,225,230,235],"labelExpr":"datum.value % 10 === 0 ? datum.label : ''","tickSize":{"condition":{"test":"datum.value % 10 === 0","value":6},"value":3.5}}},
   "order":{"field":"d","type":"quantitative"}}},
  {"data":{"name":"blueT"},"mark":{"type":"line","color":"#3a55a6","strokeWidth":1},"encoding":{
   "x":{"field":"hi","type":"quantitative","scale":{"domain":[0,600],"nice":false,"zero":false}},
   "y":{"field":"d","type":"quantitative","scale":{"domain":[0,235],"reverse":true,"nice":false,"zero":false}},
   "order":{"field":"d","type":"quantitative"}}}
 ]}
],
"spacing": 29,
"bounds": "flush"},
{"hconcat": [
 {"width":82,"height":324,"layer":[
  {"data":{"name":"red"},"mark":{"type":"line","color":"#e3262c","strokeWidth":1},"encoding":{
   "x":{"field":"tc","type":"quantitative","scale":{"domain":[0,12],"nice":false,"zero":false},"axis":{"orient":"top","title":"TC (wt%)","format":"~g","tickCount":100,"labelOverlap":false,"labelFlush":false,"values":[0,2,4,6,8,10,12],"labelExpr":"datum.value % 4 === 0 ? datum.label : ''"}},
   "y":{"field":"d","type":"quantitative","scale":{"domain":[0,300],"reverse":true,"nice":false,"zero":false},"axis":{"title":"Metres b. rfl.","titlePadding":1,"format":"d","tickCount":100,"labelOverlap":false,"values":[0,5,10,15,20,25,30,35,40,45,50,55,60,65,70,75,80,85,90,95,100,105,110,115,120,125,130,135,140,145,150,155,160,165,170,175,180,185,190,195,200,205,210,215,220,225,230,235,240,245,250,255,260,265,270,275,280,285,290,295,300],"labelExpr":"datum.value % 10 === 0 ? datum.label : ''","tickSize":{"condition":{"test":"datum.value % 10 === 0","value":6},"value":3.5}}},
   "order":{"field":"d","type":"quantitative"}}},
  {"data":{"name":"blueB"},"mark":{"type":"line","color":"#3a55a6","strokeWidth":1},"encoding":{
   "x":{"field":"tc","type":"quantitative","scale":{"domain":[0,12],"nice":false,"zero":false}},
   "y":{"field":"d","type":"quantitative","scale":{"domain":[0,300],"reverse":true,"nice":false,"zero":false}},
   "detail":{"field":"seg","type":"nominal"},
   "order":{"field":"d","type":"quantitative"}}},
  {"data":{"name":"bounds"},"mark":{"type":"rule","color":"#8c8c8c","strokeWidth":1.8,"strokeDash":[12,6],"x2Offset":29},"encoding":{
   "y":{"field":"depth","type":"quantitative","scale":{"domain":[0,300],"reverse":true,"nice":false,"zero":false}}}}
 ]},
 {"width":82,"height":324,"layer":[
  {"data":{"name":"red"},"mark":{"type":"line","color":"#e3262c","strokeWidth":1},"encoding":{
   "x":{"field":"toc","type":"quantitative","scale":{"domain":[0,10],"nice":false,"zero":false},"axis":{"orient":"top","title":"TOC (wt%)","format":"~g","tickCount":100,"labelOverlap":false,"labelFlush":false,"values":[0,1,2,3,4,5,6,7,8,9,10],"labelExpr":"datum.value % 2 === 0 ? datum.label : ''"}},
   "y":{"field":"d","type":"quantitative","scale":{"domain":[0,300],"reverse":true,"nice":false,"zero":false},"axis":{"title":null,"format":"d","tickCount":100,"labelOverlap":false,"values":[0,5,10,15,20,25,30,35,40,45,50,55,60,65,70,75,80,85,90,95,100,105,110,115,120,125,130,135,140,145,150,155,160,165,170,175,180,185,190,195,200,205,210,215,220,225,230,235,240,245,250,255,260,265,270,275,280,285,290,295,300],"labelExpr":"datum.value % 10 === 0 ? datum.label : ''","tickSize":{"condition":{"test":"datum.value % 10 === 0","value":6},"value":3.5}}},
   "order":{"field":"d","type":"quantitative"}}},
  {"data":{"name":"blueB"},"mark":{"type":"line","color":"#3a55a6","strokeWidth":1},"encoding":{
   "x":{"field":"toc","type":"quantitative","scale":{"domain":[0,10],"nice":false,"zero":false}},
   "y":{"field":"d","type":"quantitative","scale":{"domain":[0,300],"reverse":true,"nice":false,"zero":false}},
   "detail":{"field":"seg","type":"nominal"},
   "order":{"field":"d","type":"quantitative"}}},
  {"data":{"name":"bounds"},"mark":{"type":"rule","color":"#8c8c8c","strokeWidth":1.8,"strokeDash":[12,6],"x2Offset":29},"encoding":{
   "y":{"field":"depth","type":"quantitative","scale":{"domain":[0,300],"reverse":true,"nice":false,"zero":false}}}}
 ]},
 {"width":82,"height":324,"layer":[
  {"data":{"name":"red"},"mark":{"type":"line","color":"#e3262c","strokeWidth":1},"encoding":{
   "x":{"field":"ts","type":"quantitative","scale":{"domain":[0,16],"nice":false,"zero":false},"axis":{"orient":"top","title":"TS (wt%)","format":"~g","tickCount":100,"labelOverlap":false,"labelFlush":false,"values":[0,2,4,6,8,10,12,14,16],"labelExpr":"datum.value % 4 === 0 ? datum.label : ''"}},
   "y":{"field":"d","type":"quantitative","scale":{"domain":[0,300],"reverse":true,"nice":false,"zero":false},"axis":{"title":null,"format":"d","tickCount":100,"labelOverlap":false,"values":[0,5,10,15,20,25,30,35,40,45,50,55,60,65,70,75,80,85,90,95,100,105,110,115,120,125,130,135,140,145,150,155,160,165,170,175,180,185,190,195,200,205,210,215,220,225,230,235,240,245,250,255,260,265,270,275,280,285,290,295,300],"labelExpr":"datum.value % 10 === 0 ? datum.label : ''","tickSize":{"condition":{"test":"datum.value % 10 === 0","value":6},"value":3.5}}},
   "order":{"field":"d","type":"quantitative"}}},
  {"data":{"name":"blueB"},"mark":{"type":"line","color":"#3a55a6","strokeWidth":1},"encoding":{
   "x":{"field":"ts","type":"quantitative","scale":{"domain":[0,16],"nice":false,"zero":false}},
   "y":{"field":"d","type":"quantitative","scale":{"domain":[0,300],"reverse":true,"nice":false,"zero":false}},
   "detail":{"field":"seg","type":"nominal"},
   "order":{"field":"d","type":"quantitative"}}},
  {"data":{"name":"bounds"},"mark":{"type":"rule","color":"#8c8c8c","strokeWidth":1.8,"strokeDash":[12,6],"x2Offset":29},"encoding":{
   "y":{"field":"depth","type":"quantitative","scale":{"domain":[0,300],"reverse":true,"nice":false,"zero":false}}}}
 ]},
 {"width":82,"height":324,"layer":[
  {"data":{"name":"red"},"mark":{"type":"line","color":"#e3262c","strokeWidth":1},"encoding":{
   "x":{"field":"s1","type":"quantitative","scale":{"domain":[0,4],"nice":false,"zero":false},"axis":{"orient":"top","title":"S1 (Kg HC / Ton rock)","format":"~g","tickCount":100,"labelOverlap":false,"labelFlush":false,"values":[0,0.5,1,1.5,2,2.5,3,3.5,4],"labelExpr":"datum.value % 1 === 0 ? datum.label : ''"}},
   "y":{"field":"d","type":"quantitative","scale":{"domain":[0,300],"reverse":true,"nice":false,"zero":false},"axis":{"title":null,"format":"d","tickCount":100,"labelOverlap":false,"values":[0,5,10,15,20,25,30,35,40,45,50,55,60,65,70,75,80,85,90,95,100,105,110,115,120,125,130,135,140,145,150,155,160,165,170,175,180,185,190,195,200,205,210,215,220,225,230,235,240,245,250,255,260,265,270,275,280,285,290,295,300],"labelExpr":"datum.value % 10 === 0 ? datum.label : ''","tickSize":{"condition":{"test":"datum.value % 10 === 0","value":6},"value":3.5}}},
   "order":{"field":"d","type":"quantitative"}}},
  {"data":{"name":"blueB"},"mark":{"type":"line","color":"#3a55a6","strokeWidth":1},"encoding":{
   "x":{"field":"s1","type":"quantitative","scale":{"domain":[0,4],"nice":false,"zero":false}},
   "y":{"field":"d","type":"quantitative","scale":{"domain":[0,300],"reverse":true,"nice":false,"zero":false}},
   "detail":{"field":"seg","type":"nominal"},
   "order":{"field":"d","type":"quantitative"}}},
  {"data":{"name":"bounds"},"mark":{"type":"rule","color":"#8c8c8c","strokeWidth":1.8,"strokeDash":[12,6],"x2Offset":29},"encoding":{
   "y":{"field":"depth","type":"quantitative","scale":{"domain":[0,300],"reverse":true,"nice":false,"zero":false}}}}
 ]},
 {"width":82,"height":324,"layer":[
  {"data":{"name":"red"},"mark":{"type":"line","color":"#e3262c","strokeWidth":1},"encoding":{
   "x":{"field":"s2","type":"quantitative","scale":{"domain":[0,20],"nice":false,"zero":false},"axis":{"orient":"top","title":"S2 (Kg HC / Ton rock)","format":"~g","tickCount":100,"labelOverlap":false,"labelFlush":false,"values":[0,2,4,6,8,10,12,14,16,18,20],"labelExpr":"datum.value % 4 === 0 ? datum.label : ''"}},
   "y":{"field":"d","type":"quantitative","scale":{"domain":[0,300],"reverse":true,"nice":false,"zero":false},"axis":{"title":null,"format":"d","tickCount":100,"labelOverlap":false,"values":[0,5,10,15,20,25,30,35,40,45,50,55,60,65,70,75,80,85,90,95,100,105,110,115,120,125,130,135,140,145,150,155,160,165,170,175,180,185,190,195,200,205,210,215,220,225,230,235,240,245,250,255,260,265,270,275,280,285,290,295,300],"labelExpr":"datum.value % 10 === 0 ? datum.label : ''","tickSize":{"condition":{"test":"datum.value % 10 === 0","value":6},"value":3.5}}},
   "order":{"field":"d","type":"quantitative"}}},
  {"data":{"name":"blueB"},"mark":{"type":"line","color":"#3a55a6","strokeWidth":1},"encoding":{
   "x":{"field":"s2","type":"quantitative","scale":{"domain":[0,20],"nice":false,"zero":false}},
   "y":{"field":"d","type":"quantitative","scale":{"domain":[0,300],"reverse":true,"nice":false,"zero":false}},
   "detail":{"field":"seg","type":"nominal"},
   "order":{"field":"d","type":"quantitative"}}},
  {"data":{"name":"bounds"},"mark":{"type":"rule","color":"#8c8c8c","strokeWidth":1.8,"strokeDash":[12,6],"x2Offset":29},"encoding":{
   "y":{"field":"depth","type":"quantitative","scale":{"domain":[0,300],"reverse":true,"nice":false,"zero":false}}}}
 ]},
 {"width":82,"height":324,"layer":[
  {"data":{"name":"red"},"mark":{"type":"line","color":"#e3262c","strokeWidth":1},"encoding":{
   "x":{"field":"hi","type":"quantitative","scale":{"domain":[0,600],"nice":false,"zero":false},"axis":{"orient":"top","title":"Hydrogen Index","format":"~g","tickCount":100,"labelOverlap":false,"labelFlush":false,"values":[0,100,200,300,400,500,600],"labelExpr":"datum.value % 200 === 0 ? datum.label : ''"}},
   "y":{"field":"d","type":"quantitative","scale":{"domain":[0,300],"reverse":true,"nice":false,"zero":false},"axis":{"title":null,"format":"d","tickCount":100,"labelOverlap":false,"values":[0,5,10,15,20,25,30,35,40,45,50,55,60,65,70,75,80,85,90,95,100,105,110,115,120,125,130,135,140,145,150,155,160,165,170,175,180,185,190,195,200,205,210,215,220,225,230,235,240,245,250,255,260,265,270,275,280,285,290,295,300],"labelExpr":"datum.value % 10 === 0 ? datum.label : ''","tickSize":{"condition":{"test":"datum.value % 10 === 0","value":6},"value":3.5}}},
   "order":{"field":"d","type":"quantitative"}}},
  {"data":{"name":"blueB"},"mark":{"type":"line","color":"#3a55a6","strokeWidth":1},"encoding":{
   "x":{"field":"hi","type":"quantitative","scale":{"domain":[0,600],"nice":false,"zero":false}},
   "y":{"field":"d","type":"quantitative","scale":{"domain":[0,300],"reverse":true,"nice":false,"zero":false}},
   "detail":{"field":"seg","type":"nominal"},
   "order":{"field":"d","type":"quantitative"}}},
  {"data":{"name":"bounds"},"mark":{"type":"rule","color":"#8c8c8c","strokeWidth":1.8,"strokeDash":[12,6],"x2Offset":-4},"encoding":{
   "y":{"field":"depth","type":"quantitative","scale":{"domain":[0,300],"reverse":true,"nice":false,"zero":false}}}},
  {"data":{"name":"stages"},"transform":[{"filter":"datum.label !== 'u. Volgian'"}],"mark":{"type":"text","angle":315,"fontSize":7,"color":"#9a9a9a","font":"Lato"},"encoding":{
   "x":{"field":"hi","type":"quantitative","scale":{"domain":[0,600],"nice":false,"zero":false}},
   "y":{"field":"depth","type":"quantitative","scale":{"domain":[0,300],"reverse":true,"nice":false,"zero":false}},
   "text":{"field":"label","type":"nominal"}}},
  {"data":{"name":"stages"},"transform":[{"filter":"datum.label === 'u. Volgian'"}],"mark":{"type":"text","fontSize":7,"color":"#9a9a9a","font":"Lato"},"encoding":{
   "x":{"field":"hi","type":"quantitative","scale":{"domain":[0,600],"nice":false,"zero":false}},
   "y":{"field":"depth","type":"quantitative","scale":{"domain":[0,300],"reverse":true,"nice":false,"zero":false}},
   "text":{"field":"label","type":"nominal"}}}
 ]}
],
"spacing": 29,
"bounds": "flush"}
]
}
